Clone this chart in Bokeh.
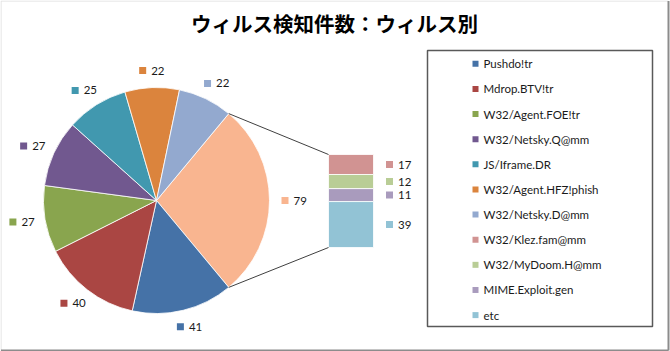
import math
from bokeh.plotting import figure
from bokeh.models import Range1d
from bokeh.core.properties import value
from bokeh.embed import file_html
from bokeh.resources import INLINE

# ---------------- data ----------------
title_text = "ウィルス検知件数：ウィルス別"
pie_names = ["Pushdo!tr", "Mdrop.BTV!tr", "W32/Agent.FOE!tr", "W32/Netsky.Q@mm",
             "JS/Iframe.DR", "W32/Agent.HFZ!phish", "W32/Netsky.D@mm"]
pie_values = [41, 40, 27, 27, 25, 22, 22]
pie_colors = ["#4572A7", "#AA4643", "#89A54E", "#71588F", "#4198AF", "#DB843D", "#93A9CF"]
bar_names = ["W32/Klez.fam@mm", "W32/MyDoom.H@mm", "MIME.Exploit.gen", "etc"]
bar_values = [17, 12, 11, 39]
bar_colors = ["#D19392", "#B9CD96", "#A99BBD", "#92C3D5"]
other_color = "#F9B590"

# ---------------- layout (pixels) ----------------
W, H = 670, 351
cx, cy, R = 156, H - 200, 113
bar_x0, bar_x1 = 328, 373
bar_top, bar_h = H - 154, 93
label_font = "Lato"
label_size = "11.5px"
text_color = "#1a1a1a"

p = figure(width=W, height=H, x_range=Range1d(0, W), y_range=Range1d(0, H),
           output_backend="svg", toolbar_location=None, min_border=0,
           outline_line_color=None, background_fill_color="white")
p.axis.visible = False
p.grid.visible = False

# outer chart border
p.segment(x0=[0.5, 0.5], y0=[0.5, H - 0.5], x1=[0.5, W - 2], y1=[H - 0.5, H - 0.5],
          line_color="#DDDDDD", line_width=1)
p.segment(x0=[W - 2, 0.5], y0=[H - 0.5, 1], x1=[W - 2, W - 2], y1=[1, 1],
          line_color="#8C8C8C", line_width=2)

# ---------------- pie ----------------
total = sum(pie_values) + sum(bar_values)
other_val = sum(bar_values)
other_ang = 2 * math.pi * other_val / total
half = other_ang / 2

starts, ends, colors, mids, vals = [-half], [half], [other_color], [0.0], [other_val]
cur = -half
for v, c in zip(pie_values, pie_colors):
    a = 2 * math.pi * v / total
    starts.append(cur - a)
    ends.append(cur)
    colors.append(c)
    mids.append(cur - a / 2)
    vals.append(v)
    cur -= a

p.wedge(x=cx, y=cy, radius=R, radius_units="screen", start_angle=starts, end_angle=ends,
        fill_color=colors, line_color="white", line_width=0.8)

# pie data labels (label box kept just outside the pie)
gap, hw, hh = R + 10, 14, 7
lab_x = [cx + gap * math.cos(m) + hw * math.cos(m) for m in mids]
lab_y = [cy + gap * math.sin(m) + hh * math.sin(m) for m in mids]
p.rect(x=[x - 8.5 for x in lab_x], y=lab_y, width=7, height=7, fill_color=colors,
       line_color=None)
p.text(x=lab_x, y=lab_y, text=[str(v) for v in vals], text_font=value(label_font),
       text_font_size=label_size, text_baseline="middle", text_align="left",
       text_color=text_color)

# ---------------- bar of pie ----------------
scale = bar_h / other_val
tops, bots = [], []
acc = 0
for v in bar_values:
    tops.append(bar_top - acc * scale)
    acc += v
    bots.append(bar_top - acc * scale)
p.quad(left=bar_x0, right=bar_x1, top=tops, bottom=bots, fill_color=bar_colors,
       line_color="white", line_width=0.8)

# connector lines
p.segment(x0=[cx + R * math.cos(half), cx + R * math.cos(-half)],
          y0=[cy + R * math.sin(half), cy + R * math.sin(-half)],
          x1=[bar_x0, bar_x0], y1=[tops[0], bots[-1]],
          line_color="#404040", line_width=1)

bl_y = [(t + b) / 2 for t, b in zip(tops, bots)]
p.rect(x=bar_x1 + 16, y=bl_y, width=7, height=7, fill_color=bar_colors, line_color=None)
p.text(x=bar_x1 + 24.5, y=bl_y, text=[str(v) for v in bar_values],
       text_font=value(label_font), text_font_size=label_size,
       text_baseline="middle", text_align="left", text_color=text_color)

# ---------------- legend ----------------
leg_names = pie_names + bar_names
leg_colors = pie_colors + bar_colors
lg_l, lg_r, lg_t, lg_b = 427, 652, H - 50, H - 326
p.quad(left=lg_l, right=lg_r, top=lg_t, bottom=lg_b, fill_color="white",
       line_color="#595959", line_width=1.5)
step = 25.13
ly = [lg_t - 13.3 - i * step for i in range(len(leg_names))]
p.rect(x=475, y=ly, width=6, height=6, fill_color=leg_colors, line_color=None)
p.text(x=483, y=ly, text=leg_names, text_font=value(label_font), text_font_size=label_size,
       text_baseline="middle", text_align="left", text_color=text_color)

# ---------------- title ----------------
p.text(x=[334], y=[H - 22], text=[title_text], text_font=value("Noto Sans CJK JP"),
       text_font_size="20.5px", text_font_style="bold", text_align="center",
       text_baseline="middle", text_color="black")

open("out.html", "w").write(file_html(p, INLINE))
